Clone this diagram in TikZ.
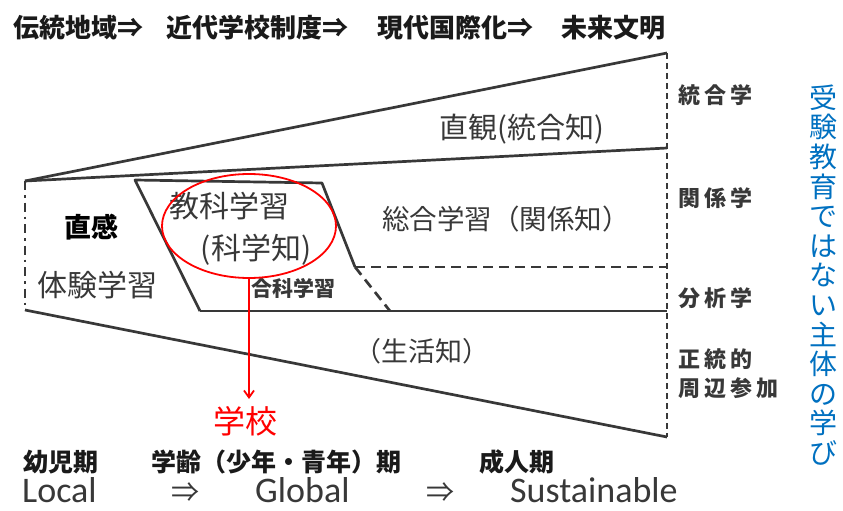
\documentclass[tikz,border=0pt]{standalone}
\usepackage{fontspec}
\setmainfont{Noto Sans CJK JP}
\newfontfamily\jp{Noto Sans CJK JP}
\newfontfamily\jpsp[LetterSpace=18]{Noto Sans CJK JP}
\newfontfamily\lat{Carlito}
\usetikzlibrary{arrows.meta,shapes.geometric}
\definecolor{ink}{HTML}{383838}
\definecolor{dark}{HTML}{1A1A1A}
\definecolor{blu}{RGB}{0,112,192}
\newcommand{\fs}[1]{\fontsize{#1}{#1}\selectfont}
\tikzset{
  solidline/.style={draw=ink, line width=2.7pt},
  dashline/.style={draw=ink, line width=2.7pt, dash pattern=on 6pt off 4pt},
  dashhl/.style={draw=ink, line width=2.7pt, dash pattern=on 10pt off 6pt},
  dashdotline/.style={draw=ink, line width=2.7pt, dash pattern=on 9pt off 5pt on 2.5pt off 5pt},
  lbl/.style={inner sep=0pt, text=ink, font=\jp},
  title/.style={inner sep=0pt, anchor=west, text=dark, font=\jp\bfseries\fs{26}},
  side/.style={inner sep=0pt, anchor=west, text=ink, font=\jpsp\bfseries\fs{22}},
  age/.style={inner sep=0pt, text=dark, font=\jp\bfseries\fs{25}},
  latin/.style={inner sep=0pt, anchor=base west, text=ink, text depth=0pt, font=\lat\fs{36}},
  arr/.style={inner sep=0pt, anchor=base, text=ink, text depth=0pt, font=\jp\fs{28}}
}
\begin{document}
\begin{tikzpicture}[x=1pt,y=-1pt]
\useasboundingbox (0,0) rectangle (843,511);
% corners
\coordinate (LT) at (25,181);
\coordinate (LB) at (25,310);
\coordinate (RT) at (667,53);
\coordinate (R2) at (667,148);
\coordinate (R3) at (667,267);
\coordinate (R4) at (667,311);
\coordinate (RB) at (667,437);
\coordinate (P1) at (135,180);
\coordinate (P2) at (322,183);
\coordinate (P3) at (355,267);
\coordinate (P4) at (200,311);
\coordinate (P5) at (390,311);
\coordinate (tip) at (249,399);
% frame
\draw[dashdotline] (LT) -- (LB);
\draw[dashline] (RT) -- (RB);
\draw[solidline] (LT) -- (RT);
\draw[solidline] (LT) -- (R2);
\draw[solidline] (LB) -- (RB);
\draw[solidline] (P4) -- (R4);
\draw[solidline, line join=round] (P4) -- (P1) -- (P2) -- (P3);
\draw[dashhl] (P3) -- (R3);
\draw[dashhl] (P3) -- (P5);
% title
\node[title] (t1) at (13,28) {伝統地域⇒};
\node[title] (t2) at (166,28) {近代学校制度⇒};
\node[title] (t3) at (377,28) {現代国際化⇒};
\node[title] (t4) at (561,28) {未来文明};
% inner labels
\node[lbl, font=\jp\fs{29}] (chokkan) at (522,129) {直観(統合知)};
\node[lbl, text=black, font=\jp\bfseries\fs{27}] (chokan2) at (91,227) {直感};
\node[lbl, font=\jp\fs{30}] (taiken) at (97,285) {体験学習};
\node[lbl, font=\jp\fs{30}] (kyoka) at (229,206) {教科学習};
\node[lbl, font=\jp\fs{30}] (kagaku) at (256,250) {(科学知)};
\node[lbl, font=\jp\bfseries\fs{21}] (goka) at (293,288) {合科学習};
\node[lbl, font=\jp\fs{27.5}] (sogo) at (506,219) {総合学習（関係知）};
\node[lbl, font=\jp\fs{27}] (seikatsu) at (422,351) {（生活知）};
% red ellipse and arrow
\node[draw=red, line width=1.8pt, ellipse, minimum width=174pt, minimum height=104pt, inner sep=0pt] (ell) at (249,226) {};
\node[inner sep=0pt, text=red, font=\jp\fs{32}] (school) at (245,421) {学校};
\draw[red, line width=1.8pt, -{Straight Barb[length=7pt,width=10pt]}] (ell.south) -- (tip);
% right side labels
\node[side] (s1) at (678,95) {統合学};
\node[side] (s2) at (678,198) {関係学};
\node[side] (s3) at (678,298) {分析学};
\node[side] (s4) at (678,359) {正統的};
\node[side] (s5) at (678,388) {周辺参加};
% vertical blue text
\node[inner sep=0pt, text=blu, align=center, font=\jp\fontsize{28}{29.6}\selectfont] (vert) at (823,275)
  {受\\験\\教\\育\\で\\は\\な\\い\\主\\体\\の\\学\\び};
% bottom
\node[age] (a1) at (61,462) {幼児期};
\node[age] (a2) at (276,462) {学齢（少年・青年）期};
\node[age] (a3) at (517,462) {成人期};
\node[latin] (l1) at (22,502) {Local};
\node[arr] (ar1) at (185,502) {⇒};
\node[latin] (l2) at (255,502) {Global};
\node[arr] (ar2) at (440,502) {⇒};
\node[latin] (l3) at (510,502) {Sustainable};
\end{tikzpicture}
\end{document}
